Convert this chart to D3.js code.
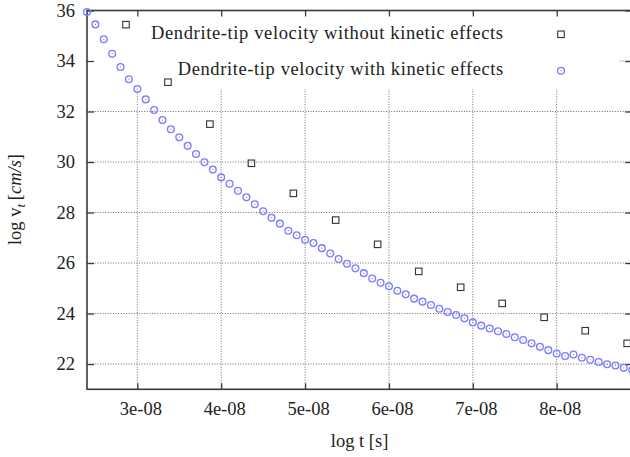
<!DOCTYPE html>
<html><head><meta charset="utf-8">
<script src="https://cdn.jsdelivr.net/npm/d3@7"></script>
<style>
body{margin:0;background:#fff}
svg{display:block}
text{font-family:"Liberation Serif","Times New Roman",serif;fill:#222}
</style>
</head><body><svg id="c" width="630" height="457"></svg>
<script>
// ---- data ----
const seriesNames = ["Dendrite-tip velocity without kinetic effects", "Dendrite-tip velocity with kinetic effects"];
const xTickValues = [3e-8, 4e-8, 5e-8, 6e-8, 7e-8, 8e-8];
const yTickValues = [22, 24, 26, 28, 30, 32, 34, 36];
const xAxisTitle = "log t [s]";

const noKineticT = [2.865e-8, 3.365e-8, 3.865e-8, 4.36e-8, 4.86e-8, 5.365e-8, 5.865e-8, 6.355e-8, 6.855e-8, 7.35e-8, 7.85e-8, 8.34e-8, 8.84e-8];
const noKineticV = [35.44, 33.16, 31.50, 29.95, 28.76, 27.70, 26.74, 25.67, 25.04, 24.40, 23.85, 23.32, 22.82];

const kineticT = [2.4e-8, 2.5e-8, 2.6e-8, 2.7e-8, 2.8e-8, 2.9e-8, 3.0e-8, 3.1e-8, 3.2e-8, 3.3e-8,
  3.4e-8, 3.5e-8, 3.6e-8, 3.7e-8, 3.8e-8, 3.9e-8, 4.0e-8, 4.1e-8, 4.2e-8, 4.3e-8,
  4.4e-8, 4.5e-8, 4.6e-8, 4.7e-8, 4.8e-8, 4.9e-8, 5.0e-8, 5.1e-8, 5.2e-8, 5.3e-8,
  5.4e-8, 5.5e-8, 5.6e-8, 5.7e-8, 5.8e-8, 5.9e-8, 6.0e-8, 6.1e-8, 6.2e-8, 6.3e-8,
  6.4e-8, 6.5e-8, 6.6e-8, 6.7e-8, 6.8e-8, 6.9e-8, 7.0e-8, 7.1e-8, 7.2e-8, 7.3e-8,
  7.4e-8, 7.5e-8, 7.6e-8, 7.7e-8, 7.8e-8, 7.9e-8, 8.0e-8, 8.1e-8, 8.2e-8, 8.3e-8,
  8.4e-8, 8.5e-8, 8.6e-8, 8.7e-8, 8.8e-8, 8.9e-8];
const kineticV = [35.94, 35.45, 34.86, 34.29, 33.76, 33.28, 32.89, 32.48, 32.06, 31.66,
  31.30, 30.98, 30.64, 30.32, 29.99, 29.70, 29.39, 29.14, 28.86, 28.60,
  28.33, 28.05, 27.79, 27.56, 27.28, 27.10, 26.92, 26.79, 26.59, 26.38,
  26.16, 25.97, 25.79, 25.60, 25.39, 25.22, 25.08, 24.90, 24.76, 24.59,
  24.47, 24.34, 24.19, 24.06, 23.94, 23.81, 23.65, 23.52, 23.41, 23.30,
  23.19, 23.06, 22.95, 22.82, 22.68, 22.55, 22.42, 22.32, 22.38, 22.25,
  22.17, 22.08, 21.99, 21.94, 21.85, 21.76];

// ---- layout ----
const L = 87, R = 632.2, T = 10.5, B = 389.3;
const svg = d3.select("#c");
const x = d3.scaleLinear().domain([2.4e-8, 8.9e-8]).range([L, R]);
const y = d3.scaleLinear().domain([21, 36]).range([B, T]);
const fmtX = d => Math.round(d * 1e8) + "e-08";
const axisColor = "#3a3a3a";

// grid
const grid = svg.append("g").attr("stroke", "#6e6e6e").attr("stroke-width", 1).attr("stroke-dasharray", "1,1.6");
grid.selectAll("line.v").data(xTickValues).join("line")
  .attr("x1", d => x(d)).attr("x2", d => x(d)).attr("y1", T).attr("y2", B);
grid.selectAll("line.h").data(yTickValues).join("line")
  .attr("y1", d => y(d)).attr("y2", d => y(d)).attr("x1", L).attr("x2", R);

// opaque key box
svg.append("rect").attr("x", L + 1).attr("y", T + 1).attr("width", 619 - L - 1).attr("height", 89 - T - 1).attr("fill", "#fff");

// axes (inward ticks)
function styleAxis(g) {
  g.attr("font-family", null).attr("font-size", null);
  g.select(".domain").remove();
  g.selectAll(".tick line").attr("stroke", axisColor).attr("stroke-width", 1.3);
  g.selectAll("text").attr("font-size", 18.5).attr("fill", "#222");
}
const gx = svg.append("g").attr("transform", `translate(0,${B})`)
  .call(d3.axisBottom(x).tickValues(xTickValues).tickSize(-6).tickSizeOuter(0).tickFormat(fmtX));
styleAxis(gx);
gx.selectAll("text").attr("y", 25.5).attr("dy", 0).attr("x", 3);

const gy = svg.append("g").attr("transform", `translate(${L},0)`)
  .call(d3.axisLeft(y).tickValues(yTickValues).tickSize(-7).tickSizeOuter(0).tickFormat(d3.format("d")));
styleAxis(gy);
gy.selectAll("text").attr("x", -12).attr("dy", 0).attr("y", 5.8).attr("text-anchor", "end");

const gt = svg.append("g").attr("transform", `translate(0,${T})`)
  .call(d3.axisTop(x).tickValues(xTickValues).tickSize(-6).tickSizeOuter(0).tickFormat(""));
styleAxis(gt);
const gr = svg.append("g").attr("transform", `translate(${R},0)`)
  .call(d3.axisRight(y).tickValues(yTickValues).tickSize(-7).tickSizeOuter(0).tickFormat(""));
styleAxis(gr);

// border
svg.append("rect").attr("x", L).attr("y", T).attr("width", R - L).attr("height", B - T)
  .attr("fill", "none").attr("stroke", axisColor).attr("stroke-width", 1.6);

// data: squares
const sq = 6.5;
const blue = "#7d7dff";
svg.append("g").selectAll("rect").data(noKineticT.map((t, i) => [t, noKineticV[i]])).join("rect")
  .attr("x", d => x(d[0]) - sq / 2).attr("y", d => y(d[1]) - sq / 2)
  .attr("width", sq).attr("height", sq)
  .attr("fill", "none").attr("stroke", "#333").attr("stroke-width", 1.1);

// data: circles
const cg = svg.append("g").selectAll("g").data(kineticT.map((t, i) => [t, kineticV[i]])).join("g")
  .attr("transform", d => `translate(${x(d[0])},${y(d[1])})`);
cg.append("circle").attr("r", 3.4).attr("fill", "none").attr("stroke", blue).attr("stroke-width", 1.3);
cg.append("circle").attr("r", 0.6).attr("fill", blue);

// legend
const legY = [38.7, 75];
const legX = [151, 177.7];
const legLen = [352, 325.6];
seriesNames.forEach((name, i) => {
  svg.append("text").attr("x", legX[i]).attr("y", legY[i]).attr("font-size", 18.5)
    .attr("textLength", legLen[i]).attr("lengthAdjust", "spacing").text(name);
});
svg.append("rect").attr("x", 561 - sq / 2).attr("y", 34.3 - sq / 2).attr("width", sq).attr("height", sq)
  .attr("fill", "none").attr("stroke", "#333").attr("stroke-width", 1.1);
svg.append("circle").attr("cx", 561).attr("cy", 70.7).attr("r", 3.4).attr("fill", "none").attr("stroke", blue).attr("stroke-width", 1.3);
svg.append("circle").attr("cx", 561).attr("cy", 70.7).attr("r", 0.6).attr("fill", blue);

// axis titles
svg.append("text").attr("x", (L + R) / 2).attr("y", 446.7).attr("text-anchor", "middle")
  .attr("font-size", 18.5).text(xAxisTitle);
const yt = svg.append("text").attr("transform", "translate(21,199.5) rotate(-90)")
  .attr("text-anchor", "middle").attr("font-size", 18.5);
yt.append("tspan").text("log v");
yt.append("tspan").attr("font-size", 13).attr("font-style", "italic").attr("dy", 4).text("t");
yt.append("tspan").attr("dy", -4).text("\u2009[");
yt.append("tspan").attr("font-style", "italic").text("cm/s");
yt.append("tspan").text("]");
</script>
</body></html>
